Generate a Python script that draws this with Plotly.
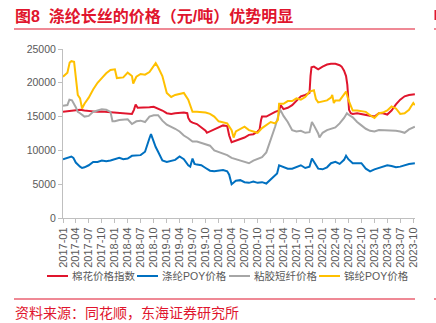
import plotly.graph_objects as go

# ---------------- data ----------------
NYLON_DATES = ["2017-01", "2017-02", "2017-02-17", "2017-03", "2017-03-20", "2017-04", "2017-04-15", "2017-05",
               "2017-05-15", "2017-06", "2017-07", "2017-08", "2017-09", "2017-10", "2017-11", "2017-12",
               "2018-01", "2018-01-15", "2018-02", "2018-03", "2018-04", "2018-05", "2018-05-10", "2018-06",
               "2018-07", "2018-08", "2018-09", "2018-10", "2018-10-15", "2018-11", "2018-12",
               "2019-01", "2019-02", "2019-03", "2019-04", "2019-05", "2019-06", "2019-07", "2019-08",
               "2019-09", "2019-10", "2019-11", "2019-12",
               "2020-01", "2020-02", "2020-03", "2020-04", "2020-04-15", "2020-05", "2020-06", "2020-07",
               "2020-08", "2020-09", "2020-10", "2020-11", "2020-12",
               "2021-01", "2021-02", "2021-02-21", "2021-03", "2021-04", "2021-05", "2021-06", "2021-07",
               "2021-08", "2021-09", "2021-10", "2021-11", "2021-11-15", "2021-12",
               "2022-01", "2022-02", "2022-03", "2022-03-10", "2022-03-21", "2022-04", "2022-05", "2022-06",
               "2022-06-15", "2022-07", "2022-08", "2022-09", "2022-10", "2022-11", "2022-12",
               "2023-01", "2023-02", "2023-03", "2023-04", "2023-05", "2023-06", "2023-07", "2023-08",
               "2023-09", "2023-09-15", "2023-10", "2023-10-12"]
NYLON = [20900, 21500, 23000, 23200, 23100, 20500, 18200, 17700,
         16200, 16900, 17800, 19000, 20000, 20700, 21400, 21900,
         22000, 20700, 20700, 20800, 21500, 21000, 19900, 20900,
         21300, 21200, 21600, 22500, 22900, 22300, 21000,
         18500, 17900, 18200, 18300, 18500, 17500, 15700, 15700,
         15700, 15600, 15400, 15000,
         14300, 14200, 14000, 13000, 11900, 12800, 13200, 13500,
         13000, 12800, 12600, 13300, 13700,
         14200, 14000, 14500, 16900, 16900, 17300, 17300, 17700,
         17500, 17900, 18700, 18900, 17600, 17100,
         17200, 17400, 17800, 18200, 17000, 17400, 17400, 18200,
         18700, 17500, 15900, 15900, 15800, 15700, 15200,
         14800, 15500, 15600, 15900, 16500, 16200, 15400, 15500,
         16000, 16500, 17000, 16700]

COTTON_DATES = ["2017-01", "2017-02", "2017-03", "2017-04", "2017-05", "2017-06", "2017-07", "2017-08",
                "2017-09", "2017-10", "2017-11", "2017-12",
                "2018-01", "2018-02", "2018-03", "2018-04", "2018-05", "2018-05-15", "2018-05-27", "2018-06-10",
                "2018-07", "2018-08", "2018-09", "2018-10", "2018-11", "2018-12",
                "2019-01", "2019-02", "2019-03", "2019-04", "2019-05", "2019-05-25", "2019-06", "2019-06-15",
                "2019-07", "2019-08", "2019-09", "2019-10", "2019-10-10", "2019-11", "2019-12",
                "2020-01", "2020-02", "2020-03", "2020-03-15", "2020-04", "2020-05", "2020-06", "2020-07",
                "2020-08", "2020-09", "2020-10", "2020-10-15", "2020-10-25", "2020-11", "2020-12",
                "2021-01", "2021-02", "2021-03", "2021-03-12", "2021-04", "2021-05", "2021-06", "2021-07",
                "2021-08", "2021-09", "2021-10", "2021-10-08", "2021-10-15", "2021-11", "2021-12",
                "2022-01", "2022-02", "2022-03", "2022-04", "2022-05", "2022-05-15", "2022-06", "2022-06-15",
                "2022-06-24", "2022-07-06", "2022-07-18", "2022-08", "2022-09", "2022-10", "2022-11", "2022-12",
                "2023-01", "2023-02", "2023-03", "2023-04", "2023-05", "2023-06", "2023-07", "2023-08",
                "2023-09", "2023-10-12"]
COTTON = [15700, 15800, 15900, 16000, 16000, 15900, 15800, 15800,
          15700, 15750, 15700, 15600,
          15550, 15500, 15500, 15450, 15400, 16000, 16800, 16300,
          16300, 16300, 16400, 16450, 16200, 15900,
          15500, 15400, 15500, 15600, 15600, 15500, 14800, 14300,
          14100, 13900, 13400, 12900, 12600, 12800, 13100,
          13400, 13700, 13600, 12200, 11200, 11400, 11700, 11900,
          12300, 12400, 12800, 13100, 14500, 15000, 15000,
          15400, 15700, 15900, 16700, 16100, 16300, 16700, 17300,
          18000, 18200, 18500, 21000, 22300, 22400, 22000,
          22400, 22700, 22800, 22800, 22600, 22400, 21800, 21000,
          19700, 16000, 15500, 15400, 15500, 15400, 15300, 15100,
          15000, 15500, 15500, 15300, 15900, 16800, 17500, 18000,
          18200, 18300]

VISCOSE_DATES = ["2017-01", "2017-02", "2017-02-15", "2017-03-05", "2017-04", "2017-04-15", "2017-05", "2017-06",
                 "2017-07", "2017-08", "2017-09", "2017-10", "2017-11", "2017-12", "2017-12-15",
                 "2018-01", "2018-02", "2018-03", "2018-04", "2018-05", "2018-06", "2018-07", "2018-08",
                 "2018-09", "2018-10", "2018-11", "2018-12",
                 "2019-01", "2019-02", "2019-03", "2019-04", "2019-05", "2019-06", "2019-07", "2019-08",
                 "2019-09", "2019-10", "2019-11", "2019-12",
                 "2020-01", "2020-02", "2020-03", "2020-04", "2020-05", "2020-06", "2020-07", "2020-08",
                 "2020-09", "2020-10", "2020-11", "2020-12",
                 "2021-01", "2021-02", "2021-03", "2021-03-10", "2021-04", "2021-05", "2021-06", "2021-07",
                 "2021-08", "2021-09", "2021-10", "2021-10-18", "2021-11", "2021-12", "2021-12-10",
                 "2022-01", "2022-02", "2022-03", "2022-04", "2022-05", "2022-06", "2022-06-21", "2022-07",
                 "2022-08", "2022-09", "2022-10", "2022-11", "2022-12",
                 "2023-01", "2023-02", "2023-03", "2023-04", "2023-05", "2023-06", "2023-07", "2023-08",
                 "2023-09", "2023-10-12"]
VISCOSE = [16600, 16700, 17500, 17400, 16400, 15700, 15500, 15000,
           15100, 15700, 15900, 16100, 16000, 15700, 14300,
           14300, 14500, 14500, 14600, 13900, 14300, 14400, 14200,
           15000, 15200, 15200, 14400,
           13800, 13500, 13200, 12800, 12200, 11800, 11300, 11300,
           11100, 10900, 10700, 10000,
           9800, 9500, 9300, 8900, 8700, 8600, 8300, 8100,
           8500, 8700, 9000, 9700,
           11500, 13500, 15500, 16000, 15100, 14200, 13000, 12800,
           12900, 12600, 12700, 14200, 13700, 12500, 11900,
           12600, 13000, 13200, 13400, 14000, 14800, 15500, 15300,
           14900, 14200, 13700, 13200, 12900,
           12800, 13000, 13000, 13000, 12900, 12900, 12800, 12600,
           13100, 13500]

POLY_DATES = ["2017-01", "2017-02", "2017-03", "2017-03-15", "2017-04", "2017-05", "2017-05-15", "2017-06",
              "2017-07", "2017-08", "2017-09", "2017-10", "2017-11", "2017-12",
              "2018-01", "2018-02", "2018-03", "2018-04", "2018-05", "2018-06", "2018-07", "2018-08",
              "2018-08-15", "2018-09", "2018-09-12", "2018-10", "2018-10-15", "2018-11", "2018-12",
              "2019-01", "2019-02", "2019-03", "2019-04", "2019-05", "2019-06", "2019-06-15", "2019-07",
              "2019-07-15", "2019-08", "2019-09", "2019-10", "2019-11", "2019-12",
              "2020-01", "2020-02", "2020-03", "2020-03-15", "2020-04", "2020-04-15", "2020-05", "2020-06",
              "2020-07", "2020-08", "2020-09", "2020-10", "2020-11", "2020-12",
              "2021-01", "2021-02", "2021-02-15", "2021-03", "2021-04", "2021-05", "2021-06", "2021-07",
              "2021-08", "2021-09", "2021-10", "2021-10-18", "2021-11", "2021-12",
              "2022-01", "2022-02", "2022-03", "2022-04", "2022-05", "2022-06", "2022-06-15", "2022-07",
              "2022-08", "2022-09", "2022-10", "2022-11", "2022-12",
              "2023-01", "2023-02", "2023-03", "2023-04", "2023-05", "2023-06", "2023-07", "2023-08",
              "2023-09", "2023-10-12"]
POLY = [8700, 8900, 9100, 8900, 8200, 7600, 7400, 7500,
        7800, 8300, 8300, 8500, 8400, 8500,
        8700, 8900, 8700, 8800, 9200, 9200, 9300, 9800,
        10800, 11800, 12400, 11200, 10500, 9800, 8500,
        8300, 8500, 8600, 9100, 8700, 7800, 7600, 8800,
        8000, 7900, 7800, 7400, 7000, 6900,
        7000, 7100, 6900, 6400, 5000, 5300, 5500, 5600,
        5300, 5200, 5400, 5200, 5300, 5100,
        5700, 6300, 6600, 7800, 7500, 7300, 7300, 7500,
        7800, 7400, 7600, 8800, 8300, 7300,
        7200, 7500, 8100, 8300, 8000, 8600, 9200, 8700,
        8100, 8100, 8100, 7300, 6900,
        7200, 7400, 7600, 7800, 7700, 7500, 7600, 7800,
        8000, 8100]

SERIES_NAMES = ["棉花价格指数", "涤纶POY价格", "粘胶短纤价格", "锦纶POY价格"]
Y_TICKS = [0, 5000, 10000, 15000, 20000, 25000]

TITLE = "图8  涤纶长丝的价格（元/吨）优势明显"
SOURCE = "资料来源：同花顺，东海证券研究所"

# ---------------- styling ----------------
RED = "#E0152D"
COLORS = ["#E0152D", "#0070C0", "#A6A6A6", "#FFC000"]
FONT = "Liberation Sans, Arial, Noto Sans CJK SC, sans-serif"
AXIS_GREY = "#BFBFBF"
TEXT_GREY = "#595959"

W, H = 436, 323
L, R, T, B = 63, 415, 49, 218  # plot area in pixels
LEGEND_Y = 276
LEGEND_X = [47, 137, 229, 319]  # left end of each legend key line
KEY_LEN = 21


def px(x):
    return (x - L) / (R - L)


def py(y):
    return (B - y) / (B - T)


fig = go.Figure()
for name, dates, vals, col in [
    (SERIES_NAMES[0], COTTON_DATES, COTTON, COLORS[0]),
    (SERIES_NAMES[1], POLY_DATES, POLY, COLORS[1]),
    (SERIES_NAMES[2], VISCOSE_DATES, VISCOSE, COLORS[2]),
    (SERIES_NAMES[3], NYLON_DATES, NYLON, COLORS[3]),
]:
    fig.add_trace(go.Scatter(x=dates, y=vals, name=name, mode="lines",
                             line=dict(color=col, width=2), showlegend=False))

fig.update_layout(
    width=W, height=H, autosize=False,
    margin=dict(l=L, r=W - R, t=T, b=H - B, pad=0),
    paper_bgcolor="white", plot_bgcolor="white",
    font=dict(family=FONT, color=TEXT_GREY, size=11),
    showlegend=False,
    xaxis=dict(type="date", range=["2017-01-01", "2023-10-13"], tick0="2017-01-01", dtick="M3",
               tickformat="%Y-%m", tickangle=-90, ticks="outside", ticklen=4, tickcolor=AXIS_GREY,
               showline=True, linecolor=AXIS_GREY, linewidth=1, showgrid=False, zeroline=False,
               tickfont=dict(size=11, color=TEXT_GREY)),
    yaxis=dict(range=[0, 25000], tickvals=Y_TICKS, tickformat="d", ticks="outside", ticklen=4,
               tickcolor=AXIS_GREY, showline=True, linecolor=AXIS_GREY, linewidth=1, showgrid=False,
               zeroline=False, tickfont=dict(size=10.5, color=TEXT_GREY)),
)

# legend keys (line + label) drawn as shapes/annotations for exact spacing
for name, col, lx in zip(SERIES_NAMES, COLORS, LEGEND_X):
    fig.add_shape(type="line", xref="paper", yref="paper", x0=px(lx), x1=px(lx + KEY_LEN),
                  y0=py(LEGEND_Y), y1=py(LEGEND_Y), line=dict(color=col, width=2))
    fig.add_annotation(text=name, xref="paper", yref="paper", x=px(lx + KEY_LEN + 2), y=py(LEGEND_Y),
                       xanchor="left", yanchor="middle", showarrow=False,
                       font=dict(size=10.5, color=TEXT_GREY, family=FONT))

fig.add_annotation(text="<b>" + TITLE + "</b>", xref="paper", yref="paper", x=px(13), y=py(15.5),
                   xanchor="left", yanchor="middle", showarrow=False,
                   font=dict(size=16, color=RED, family=FONT))
fig.add_annotation(text=SOURCE, xref="paper", yref="paper", x=px(13), y=py(312.5),
                   xanchor="left", yanchor="middle", showarrow=False,
                   font=dict(size=14, color=RED, family=FONT))

for yy in (29, 299):
    fig.add_shape(type="line", xref="paper", yref="paper", x0=px(14), x1=px(415), y0=py(yy), y1=py(yy),
                  line=dict(color=RED, width=1.2))
    fig.add_shape(type="line", xref="paper", yref="paper", x0=px(434), x1=px(437), y0=py(yy), y1=py(yy),
                  line=dict(color=RED, width=1.2))
fig.add_shape(type="rect", xref="paper", yref="paper", x0=px(434.5), x1=px(437), y0=py(20), y1=py(10),
              line=dict(width=0), fillcolor=RED)

fig.write_html("out.html")
